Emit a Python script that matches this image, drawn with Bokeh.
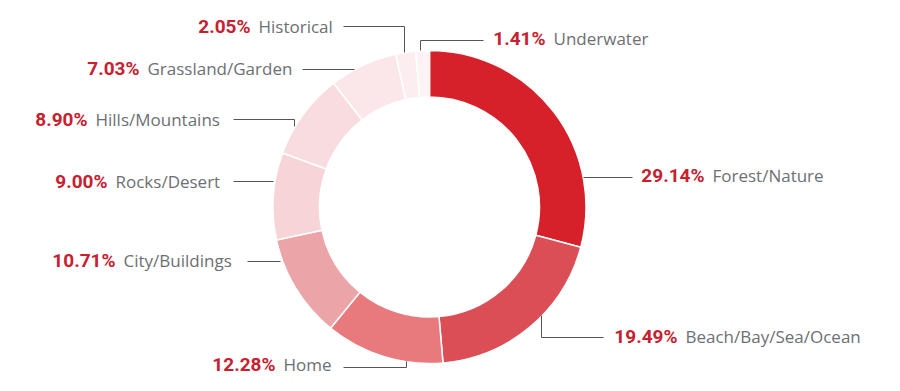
import math
from bokeh.plotting import figure
from bokeh.models import Range1d, ColumnDataSource
from bokeh.core.properties import value
from bokeh.embed import file_html
from bokeh.resources import INLINE

# ---- data ----
categories = ["Forest/Nature", "Beach/Bay/Sea/Ocean", "Home", "City/Buildings",
              "Rocks/Desert", "Hills/Mountains", "Grassland/Garden", "Historical", "Underwater"]
shares = [29.14, 19.49, 12.28, 10.71, 9.00, 8.90, 7.03, 2.05, 1.41]

# ---- style / layout ----
colors = ["#D6212A", "#DC4E56", "#E87A7E", "#EBA4A7", "#F7D4D7",
          "#F8DCDF", "#FBE7E9", "#FCEEF0", "#FDF3F5"]
CX, CY = 429, -206.5
R_OUT, R_IN = 156.5, 110

# label layout: name left x, text middle y (image coords), leader polyline (image coords)
label_x = [712, 685, 283, 123, 115, 95, 147, 258, 553]
label_mid = [175, 336, 364, 259.5, 180.5, 119, 68, 25.5, 38]
leaders = [
    [(583, 177), (632, 177)],
    [(541, 315), (541, 337), (603, 337)],
    [(406, 361), (406, 367), (343, 367)],
    [(280, 261), (247, 261)],
    [(273, 181), (233, 181)],
    [(294, 126), (294, 119), (233, 119)],
    [(354, 69), (302, 69)],
    [(404, 52), (404, 26), (343, 26)],
    [(420, 50), (420, 40), (483, 40)],
]

total = sum(shares)
starts, ends = [], []
acc = 0.0
for s in shares:
    t0 = acc / total * 2 * math.pi
    acc += s
    t1 = acc / total * 2 * math.pi
    starts.append(math.pi / 2 - t0)
    ends.append(math.pi / 2 - t1)

p = figure(width=884, height=383, output_backend="svg", toolbar_location=None,
           x_range=Range1d(0, 884), y_range=Range1d(-383, 0), min_border=0)
p.axis.visible = False
p.grid.visible = False
p.outline_line_color = None
p.background_fill_color = "white"

src = ColumnDataSource(dict(start=starts, end=ends, color=colors, cat=categories))
p.annular_wedge(x=CX, y=CY, inner_radius=R_IN, outer_radius=R_OUT,
                start_angle="start", end_angle="end", direction="clock",
                fill_color="color", line_color="white", line_width=1.5, source=src)

for pts in leaders:
    p.line([q[0] for q in pts], [-q[1] for q in pts], line_color="#555555", line_width=1)

pct = ["%.2f%%" % s for s in shares]
tsrc = ColumnDataSource(dict(
    nx=label_x, px=[x - 8 for x in label_x], y=[-b for b in label_mid],
    name=categories, pct=pct))
p.text(x="nx", y="y", text="name", source=tsrc, text_align="left",
       text_baseline="middle", text_color="#6D6F73",
       text_font=value("Open Sans"), text_font_size="17px")
p.text(x="px", y="y", text="pct", source=tsrc, text_align="right",
       text_baseline="middle", text_color="#C8202E",
       text_font=value("Roboto"),
       text_font_size="19px", text_font_style="bold")

open("out.html", "w").write(file_html(p, INLINE))
